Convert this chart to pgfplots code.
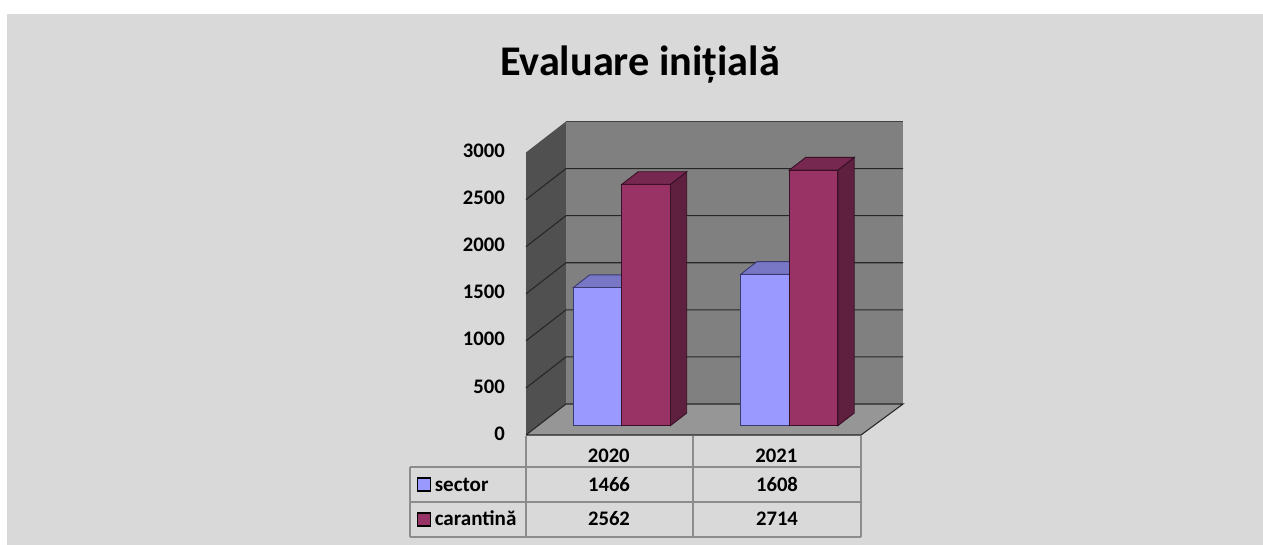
\documentclass[border=0pt]{standalone}
\usepackage{fontspec}
\usepackage{pgfplots}
\pgfplotsset{compat=1.18}
\setmainfont{Carlito}

\definecolor{bggray}{HTML}{D9D9D9}
\definecolor{backwall}{HTML}{808080}
\definecolor{sidewall}{HTML}{505050}
\definecolor{floorgray}{HTML}{969696}
\definecolor{gridline}{HTML}{262626}
\definecolor{tableline}{HTML}{8C8C8C}
\definecolor{sectorF}{HTML}{9999FF}
\definecolor{sectorT}{HTML}{7777C6}
\definecolor{sectorS}{HTML}{5C5C99}
\definecolor{sectorE}{HTML}{3A3A70}
\definecolor{carF}{HTML}{993366}
\definecolor{carT}{HTML}{772850}
\definecolor{carS}{HTML}{5F1F3F}
\definecolor{carE}{HTML}{3A1027}

% one 3d column: x0, x1, value, colour prefix
\newcommand{\column}[4]{
  \addplot3[fill=#4S, draw=#4E, line width=.7pt] coordinates {(#2,.3,0) (#2,.71,0) (#2,.71,#3) (#2,.3,#3)} --cycle;
  \addplot3[fill=#4T, draw=#4E, line width=.7pt] coordinates {(#1,.3,#3) (#2,.3,#3) (#2,.71,#3) (#1,.71,#3)} --cycle;
  \addplot3[fill=#4F, draw=#4E, line width=.7pt] coordinates {(#1,.3,0) (#2,.3,0) (#2,.3,#3) (#1,.3,#3)} --cycle;
}

\begin{document}
\begin{tikzpicture}
\begin{scope}[x=.75pt,y=-.75pt]
  \path[use as bounding box] (0,0) rectangle (1263,545);
  \fill[bggray] (7,14) rectangle (1263,545);
  \node[font=\bfseries\fontsize{31.7}{34}\selectfont, anchor=center] at (640,65) {Evaluare inițială};
\end{scope}

\begin{axis}[
  at={(394.5pt,-326.25pt)}, anchor=origin,
  x={(125.625pt,0pt)}, y={(30pt,23.25pt)}, z={(0pt,0.07063pt)},
  xmin=0, xmax=2, ymin=0, ymax=1, zmin=0, zmax=3000,
  clip=false,
  axis line style={draw=none},
  tick style={draw=none},
  xtick={0.5,1.5}, xticklabels={2020,2021},
  ytick=\empty,
  ztick={0,500,1000,1500,2000,2500,3000},
  tick label style={font=\bfseries\fontsize{15.5}{18}\selectfont},
  xticklabel style={xshift=3.5pt, yshift=-6.75pt},
  zticklabel style={anchor=east, inner sep=0pt, xshift=-15.75pt, yshift=1.2pt},
  /pgf/number format/assume math mode=true,
  /pgf/number format/1000 sep={},
  set layers=false,
]
  % walls
  \addplot3[fill=sidewall, draw=none] coordinates {(0,0,0) (0,1,0) (0,1,3000) (0,0,3000)} --cycle;
  \addplot3[fill=backwall, draw=none] coordinates {(0,1,0) (2.012,1,0) (2.012,1,3000) (0,1,3000)} --cycle;
  \addplot3[fill=floorgray, draw=none] coordinates {(0,0,0) (2,0,0) (2.012,1,0) (0,1,0)} --cycle;
  % grid on the walls
  \addplot3[draw=gridline, line width=.8pt] coordinates {(0,0,500) (0,1,500) (2.012,1,500)};
  \addplot3[draw=gridline, line width=.8pt] coordinates {(0,0,1000) (0,1,1000) (2.012,1,1000)};
  \addplot3[draw=gridline, line width=.8pt] coordinates {(0,0,1500) (0,1,1500) (2.012,1,1500)};
  \addplot3[draw=gridline, line width=.8pt] coordinates {(0,0,2000) (0,1,2000) (2.012,1,2000)};
  \addplot3[draw=gridline, line width=.8pt] coordinates {(0,0,2500) (0,1,2500) (2.012,1,2500)};
  \addplot3[draw=gridline!70!backwall, line width=.8pt] coordinates {(0,1,3000) (2.012,1,3000)};
  \addplot3[draw=gridline, line width=.8pt] coordinates {(0,0,0) (2,0,0) (2.012,1,0) (0,1,0) (0,0,0)};
  % columns
  \column{0.21}{0.50}{1466}{sector}
  \column{0.50}{0.79}{2562}{car}
  \column{1.21}{1.50}{1608}{sector}
  \column{1.50}{1.79}{2714}{car}
\end{axis}

\begin{scope}[x=.75pt,y=-.75pt]
  % data table under the chart
  \draw[tableline, line width=1pt]
    (526,436) -- (526,537) (693,436) -- (693,537) (861,436) -- (861,537)
    (410,467) -- (410,537)
    (410,467) -- (861,467) (410,502) -- (861,502) (410,537) -- (861,537);
  \tikzset{cell/.style={font=\bfseries\fontsize{15.5}{18}\selectfont, anchor=base, inner sep=0pt}}
  \node[cell] at (609,491) {1466};
  \node[cell] at (777,491) {1608};
  \node[cell] at (609,525.5) {2562};
  \node[cell] at (777,525.5) {2714};
  \filldraw[fill=sectorF, draw=black, line width=1.3pt] (417.5,478) rectangle (430.5,491);
  \filldraw[fill=carF, draw=black, line width=1.3pt] (417.5,513) rectangle (430.5,526);
  \node[font=\bfseries\fontsize{15.8}{18}\selectfont, anchor=base west, inner sep=0pt] at (434.5,491) {sector};
  \node[font=\bfseries\fontsize{15.8}{18}\selectfont, anchor=base west, inner sep=0pt] at (434.5,525.5) {carantină};
\end{scope}
\end{tikzpicture}
\end{document}
